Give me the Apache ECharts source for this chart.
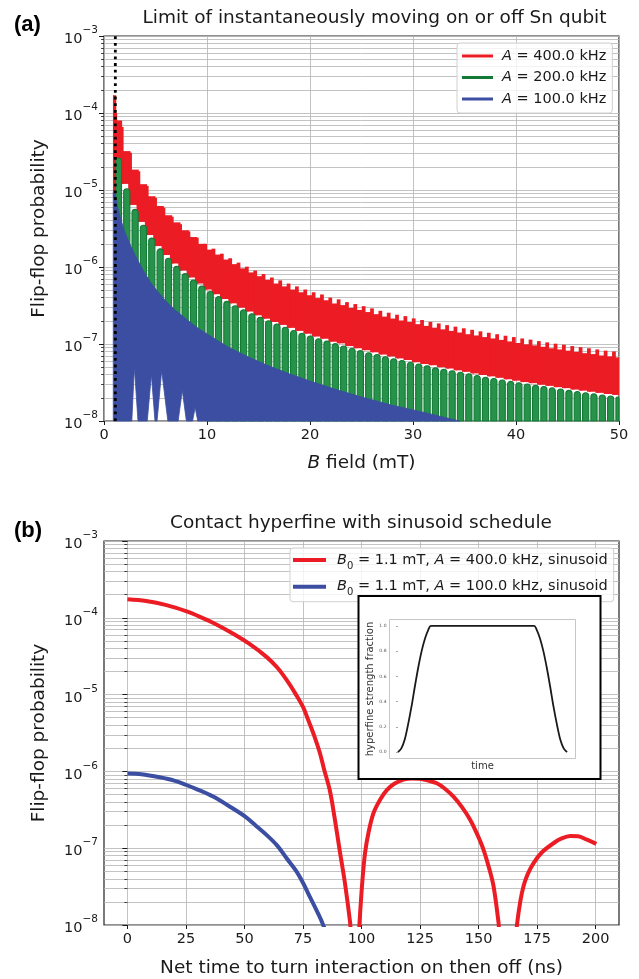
<!DOCTYPE html>
<html><head><meta charset="utf-8">
<script src="https://cdn.jsdelivr.net/npm/echarts@6/dist/echarts.min.js"></script>
<style>html,body{margin:0;padding:0;background:#fff}#c{width:639px;height:979px}</style>
</head><body><div id="c"></div>
<script>
// ---------------- data ----------------
const Y_MIN = 1e-8, Y_MAX = 1e-3;
const B0 = 1.1;
const topNames = ['A = 400.0 kHz', 'A = 200.0 kHz', 'A = 100.0 kHz'];
const botNames = ['B0 = 1.1 mT, A = 400.0 kHz, sinusoid', 'B0 = 1.1 mT, A = 100.0 kHz, sinusoid'];
const nsTicks = [0, 25, 50, 75, 100, 125, 150, 175, 200];
const schedTicks = [0, 0.2, 0.4, 0.6, 0.8, 1.0];

// panel (a): A = 400 kHz, comb of maxima (B in mT)
const redB = [0.92, 1.15, 1.72, 2.53, 3.34, 4.15, 4.96, 5.77, 6.58, 7.39, 8.20, 9.01, 9.82, 10.63, 11.44, 12.25, 13.06, 13.87, 14.68, 15.49, 16.30, 17.11, 17.92, 18.73, 19.54, 20.35, 21.16, 21.97, 22.78, 23.59, 24.40, 25.21, 26.02, 26.83, 27.64, 28.45, 29.26, 30.07, 30.88, 31.69, 32.50, 33.31, 34.12, 34.93, 35.74, 36.55, 37.36, 38.17, 38.98, 39.79, 40.60, 41.41, 42.22, 43.03, 43.84, 44.65, 45.46, 46.27, 47.08, 47.89, 48.70, 49.51];
const redPeak = [1.7e-4, 1.0e-4, 6.6e-5, 3.05e-5, 1.75e-5, 1.13e-5, 7.9e-6, 5.9e-6, 4.5e-6, 3.6e-6, 2.9e-6, 2.4e-6, 2.0e-6, 1.73e-6, 1.49e-6, 1.30e-6, 1.14e-6, 1.01e-6, 9.0e-7, 8.1e-7, 7.3e-7, 6.7e-7, 6.1e-7, 5.6e-7, 5.1e-7, 4.7e-7, 4.4e-7, 4.0e-7, 3.8e-7, 3.5e-7, 3.3e-7, 3.1e-7, 2.9e-7, 2.7e-7, 2.55e-7, 2.4e-7, 2.3e-7, 2.15e-7, 2.05e-7, 1.94e-7, 1.85e-7, 1.76e-7, 1.68e-7, 1.6e-7, 1.53e-7, 1.46e-7, 1.4e-7, 1.34e-7, 1.28e-7, 1.23e-7, 1.18e-7, 1.14e-7, 1.09e-7, 1.05e-7, 1.01e-7, 9.8e-8, 9.4e-8, 9.1e-8, 8.8e-8, 8.5e-8, 8.2e-8, 8.0e-8];
const redDip = [1.7e-4, 8.0e-5, 3.2e-5, 1.84e-5, 1.19e-5, 8.3e-6, 6.2e-6, 4.7e-6, 3.8e-6, 3.0e-6, 2.45e-6, 2.0e-6, 1.68e-6, 1.45e-6, 1.25e-6, 1.09e-6, 9.6e-7, 8.5e-7, 7.6e-7, 6.8e-7, 6.1e-7, 5.6e-7, 5.1e-7, 4.7e-7, 4.3e-7, 3.95e-7, 3.7e-7, 3.36e-7, 3.2e-7, 2.94e-7, 2.77e-7, 2.6e-7, 2.44e-7, 2.27e-7, 2.14e-7, 2.02e-7, 1.93e-7, 1.81e-7, 1.72e-7, 1.63e-7, 1.55e-7, 1.48e-7, 1.41e-7, 1.34e-7, 1.29e-7, 1.23e-7, 1.18e-7, 1.13e-7, 1.08e-7, 1.03e-7, 9.9e-8, 9.6e-8, 9.2e-8, 8.8e-8, 8.5e-8, 8.2e-8, 7.9e-8, 7.6e-8, 7.4e-8, 7.1e-8, 6.9e-8, 6.7e-8];
const redLow = [8e-6, 2.0e-5, 1.2e-5, 6.4e-6, 3.85e-6, 2.6e-6, 1.87e-6, 1.43e-6, 1.11e-6, 9.0e-7, 7.3e-7, 6.1e-7, 5.1e-7, 4.43e-7, 3.84e-7, 3.37e-7, 2.96e-7, 2.64e-7, 2.36e-7, 2.13e-7, 1.93e-7, 1.77e-7, 1.62e-7, 1.48e-7, 1.36e-7, 1.25e-7, 1.17e-7, 1.07e-7, 1.02e-7, 9.4e-8, 8.8e-8, 8.3e-8, 7.8e-8, 7.3e-8, 6.9e-8, 6.5e-8, 6.2e-8, 5.8e-8, 5.5e-8, 5.3e-8, 5.0e-8, 4.8e-8, 4.55e-8, 4.35e-8, 4.15e-8, 3.96e-8, 3.8e-8, 3.64e-8, 3.48e-8, 3.34e-8, 3.2e-8, 3.1e-8, 2.96e-8, 2.86e-8, 2.75e-8, 2.67e-8, 2.56e-8, 2.48e-8, 2.4e-8, 2.32e-8, 2.24e-8, 2.18e-8];

// panel (a): A = 200 kHz, beat lobes (maxima) and floor of the lobes
const greenB = [1.40, 2.21, 3.02, 3.83, 4.64, 5.45, 6.26, 7.07, 7.88, 8.69, 9.50, 10.31, 11.12, 11.93, 12.74, 13.55, 14.36, 15.17, 15.98, 16.79, 17.60, 18.41, 19.22, 20.03, 20.84, 21.65, 22.46, 23.27, 24.08, 24.89, 25.70, 26.51, 27.32, 28.13, 28.94, 29.75, 30.56, 31.37, 32.18, 32.99, 33.80, 34.61, 35.42, 36.23, 37.04, 37.85, 38.66, 39.47, 40.28, 41.09, 41.90, 42.71, 43.52, 44.33, 45.14, 45.95, 46.76, 47.57, 48.38, 49.19, 50.00];
const greenPeak = [2.6e-5, 1.04e-5, 5.6e-6, 3.48e-6, 2.37e-6, 1.72e-6, 1.30e-6, 1.02e-6, 8.2e-7, 6.75e-7, 5.65e-7, 4.8e-7, 4.12e-7, 3.58e-7, 3.14e-7, 2.78e-7, 2.47e-7, 2.22e-7, 2.0e-7, 1.81e-7, 1.65e-7, 1.5e-7, 1.38e-7, 1.27e-7, 1.17e-7, 1.09e-7, 1.01e-7, 9.4e-8, 8.8e-8, 8.2e-8, 7.7e-8, 7.3e-8, 6.8e-8, 6.4e-8, 6.1e-8, 5.8e-8, 5.5e-8, 5.2e-8, 4.9e-8, 4.7e-8, 4.5e-8, 4.3e-8, 4.1e-8, 3.9e-8, 3.7e-8, 3.56e-8, 3.41e-8, 3.27e-8, 3.14e-8, 3.02e-8, 2.9e-8, 2.8e-8, 2.69e-8, 2.6e-8, 2.5e-8, 2.42e-8, 2.33e-8, 2.25e-8, 2.18e-8, 2.11e-8, 2.04e-8];
const greenFloorB = [0, 9.9];          // floor changes at these B
const greenFloor = [6e-8, 1e-8];       // lobe floor from each B onward

// panel (a): A = 100 kHz, upper envelope and lower envelope (minima)
const blueB = [0.9, 1.1, 1.3, 1.6, 2.0, 2.5, 3.0, 3.5, 4.0, 4.5, 5.0, 6.0, 7.0, 8.0, 9.0, 10, 12, 14, 16, 18, 20, 22.4, 25, 28, 31, 34.5];
const blueTop = [9.5e-6, 9.0e-6, 6.2e-6, 4.3e-6, 2.9e-6, 2.0e-6, 1.45e-6, 1.08e-6, 8.2e-7, 6.4e-7, 5.2e-7, 3.6e-7, 2.7e-7, 2.1e-7, 1.65e-7, 1.35e-7, 9.2e-8, 6.8e-8, 5.2e-8, 4.1e-8, 3.3e-8, 2.6e-8, 2.05e-8, 1.6e-8, 1.3e-8, 1.0e-8];
const blueLowB = [0.9, 2.7, 2.95, 3.3, 4.2, 4.6, 4.95, 5.15, 5.6, 6.2, 7.2, 7.6, 8.0, 8.6, 8.85, 9.1, 34.5];
const blueLow = [1e-8, 1e-8, 5e-8, 1e-8, 1e-8, 4e-8, 1e-8, 1e-8, 4.5e-8, 1e-8, 1e-8, 2.5e-8, 1e-8, 1e-8, 1.5e-8, 1e-8, 1e-8];

// panel (b): sinusoid schedule (t in ns)
const t400 = [0, 8, 16.7, 25, 31, 38, 45, 52, 59.4, 64, 68, 72, 75, 77.2, 80, 82.2, 84, 86.5, 88.5, 90.8, 93, 95.1, 96.6, 98.4, 99.1, 100.3, 101.5, 103, 105.1, 108, 110.8, 114, 117.9, 121.5, 125, 128.5, 132.2, 135.5, 139.3, 143, 146.4, 149.5, 152.1, 154.5, 156.4, 158.5, 160, 165, 166.4, 167.8, 169.2, 171, 173.5, 177, 182, 185.5, 189.2, 192.5, 196.3, 200.3];
const p400 = [1.74e-4, 1.65e-4, 1.46e-4, 1.22e-4, 1.03e-4, 8.2e-5, 6.25e-5, 4.6e-5, 3.1e-5, 2.25e-5, 1.55e-5, 1.0e-5, 6.9e-6, 4.7e-6, 2.8e-6, 1.75e-6, 1.07e-6, 5.6e-7, 2.5e-7, 8.9e-8, 3.4e-8, 1.1e-8, 4e-9, 4e-9, 1.0e-8, 3.5e-8, 8.6e-8, 1.6e-7, 2.85e-7, 4.3e-7, 5.7e-7, 6.9e-7, 7.8e-7, 8.1e-7, 8.0e-7, 7.6e-7, 7.0e-7, 6.0e-7, 4.7e-7, 3.4e-7, 2.35e-7, 1.5e-7, 9.6e-8, 5.5e-8, 3.2e-8, 1.1e-8, 4e-9, 4e-9, 1.0e-8, 2.0e-8, 3.2e-8, 4.6e-8, 6.4e-8, 8.8e-8, 1.16e-7, 1.34e-7, 1.44e-7, 1.43e-7, 1.29e-7, 1.14e-7];
const t100 = [0, 6, 13.8, 20, 25.2, 30, 36.6, 43, 50.2, 55, 59.4, 64, 68, 72, 75.1, 78, 80.8, 82.8, 84.4, 86];
const p100 = [9.4e-7, 9.2e-7, 8.4e-7, 7.6e-7, 6.65e-7, 5.8e-7, 4.7e-7, 3.6e-7, 2.6e-7, 1.95e-7, 1.49e-7, 1.08e-7, 7.4e-8, 5.1e-8, 3.5e-8, 2.3e-8, 1.55e-8, 1.15e-8, 8.5e-9, 4e-9];

// inset: hyperfine schedule (normalised time)
const schedT = [0, 0.02, 0.04, 0.06, 0.08, 0.10, 0.12, 0.14, 0.16, 0.18, 0.195, 0.805, 0.82, 0.84, 0.86, 0.88, 0.90, 0.92, 0.94, 0.96, 0.98, 1.0];
const schedV = [0, 0.03, 0.1, 0.22, 0.36, 0.52, 0.67, 0.8, 0.9, 0.97, 1.0, 1.0, 0.97, 0.9, 0.8, 0.67, 0.52, 0.36, 0.22, 0.1, 0.03, 0];

// ---------------- style ----------------
const RED = '#ec1c24', GREEN = '#137a36', GREEN_FILL = '#27924a', BLUE = '#3b4ea2';
const GRID_C = '#b4b4b4', INK = '#1a1a1a';
const FONT = 'DejaVu Sans';

const supRich = {
  b: { fontSize: 14.5, fontFamily: FONT, color: INK, lineHeight: 22, verticalAlign: 'bottom' },
  s: { fontSize: 10.5, fontFamily: FONT, color: INK, lineHeight: 13, verticalAlign: 'top' }
};
function supLabel(v) {
  const e = Math.round(Math.log10(v));
  return '{b|10}{s|\u2212' + (-e) + '}';
}

function clipTo(r, cs) {
  return echarts.graphic.clipRectByRect(r, { x: cs.x, y: cs.y, width: cs.width, height: cs.height });
}

function renderRed(params, api) {
  const i = params.dataIndex;
  const b = api.value(0);
  const bn = i < redB.length - 1 ? redB[i + 1] : b + (b - redB[i - 1]);
  const pLow = api.coord([b, api.value(3)]);
  const pPeak = api.coord([b, api.value(1)]);
  const pDip = api.coord([bn, api.value(2)]);
  const step = pDip[0] - pLow[0];
  const tw = step * 0.45;
  const cs = params.coordSys;
  const children = [];
  const base = clipTo({ x: pLow[0], y: pDip[1], width: step + 0.4, height: pLow[1] - pDip[1] }, cs);
  const tooth = clipTo({ x: pLow[0] - tw / 2, y: pPeak[1], width: tw, height: pLow[1] - pPeak[1] }, cs);
  if (base) children.push({ type: 'rect', shape: base, style: { fill: RED } });
  if (tooth) children.push({ type: 'rect', shape: tooth, style: { fill: RED } });
  return { type: 'group', children };
}

function floorAt(b) {
  let f = greenFloor[0];
  for (let k = 0; k < greenFloorB.length; k++) if (b >= greenFloorB[k]) f = greenFloor[k];
  return f;
}

function renderGreen(params, api) {
  const i = params.dataIndex;
  const b = api.value(0);
  const d = i < greenB.length - 1 ? greenB[i + 1] - b : b - greenB[i - 1];
  const top = api.coord([b, api.value(1)]);
  const bot = api.coord([b, floorAt(b)]);
  const w = api.size([d, 0])[0] * 0.74;
  const r = clipTo({ x: top[0] - w / 2, y: top[1], width: w, height: bot[1] - top[1] }, params.coordSys);
  if (!r) return null;
  return {
    type: 'rect',
    shape: { x: r.x, y: r.y, width: r.width, height: r.height, r: [w / 2, w / 2, 0, 0] },
    style: { fill: GREEN_FILL, stroke: GREEN, lineWidth: 1.1 }
  };
}

function renderBlue(params, api) {
  const pts = [];
  for (let i = 0; i < blueB.length; i++) pts.push(api.coord([blueB[i], blueTop[i]]));
  for (let i = blueLowB.length - 1; i >= 0; i--) pts.push(api.coord([blueLowB[i], blueLow[i]]));
  return { type: 'polygon', shape: { points: pts }, style: { fill: BLUE, stroke: BLUE, lineWidth: 0.8 } };
}

function logYAxis(gi, name) {
  return {
    gridIndex: gi, type: 'log', logBase: 10, min: Y_MIN, max: Y_MAX,
    axisLine: { show: false },
    axisTick: { show: true, length: 5, lineStyle: { color: INK, width: 1 } },
    minorTick: { show: true, splitNumber: 9, length: 3, lineStyle: { color: INK, width: 0.8 } },
    splitLine: { show: true, lineStyle: { color: GRID_C, width: 0.8 } },
    minorSplitLine: { show: true, lineStyle: { color: GRID_C, width: 0.8 } },
    axisLabel: { formatter: supLabel, rich: supRich, margin: 6 },
    name: name, nameLocation: 'middle', nameGap: 55,
    nameTextStyle: { fontSize: 18.5, fontFamily: FONT, color: INK, lineHeight: 20 }
  };
}

const chart = echarts.init(document.getElementById('c'), null, { renderer: 'canvas' });

const option = {
  animation: false,
  backgroundColor: '#fff',
  textStyle: { fontFamily: FONT },
  grid: [
    { left: 104, top: 36, width: 515, height: 385, show: true, borderColor: '#222', borderWidth: 1.2, backgroundColor: 'transparent' },
    { left: 104, top: 541, width: 515, height: 384, show: true, borderColor: '#222', borderWidth: 1.2, backgroundColor: 'transparent' },
    { left: 389.5, top: 619.5, width: 186, height: 139, show: true, borderColor: '#b8b8b8', borderWidth: 0.8, backgroundColor: 'transparent', z: 30 }
  ],
  xAxis: [
    {
      gridIndex: 0, type: 'value', min: 0, max: 50, interval: 10,
      axisLine: { show: false },
      axisTick: { show: true, length: 4, lineStyle: { color: INK, width: 1 } },
      axisLabel: { fontSize: 14.5, fontFamily: FONT, color: INK, margin: 7 },
      splitLine: { show: true, lineStyle: { color: GRID_C, width: 0.8 } },
      name: '{i|B} field (mT)', nameLocation: 'middle', nameGap: 32,
      nameTextStyle: { fontSize: 18.5, fontFamily: FONT, color: INK, lineHeight: 20,
        rich: { i: { fontStyle: 'italic', fontSize: 18.5, fontFamily: FONT, color: INK, lineHeight: 20 } } }
    },
    {
      gridIndex: 1, type: 'value', min: -10, max: 210,
      axisLine: { show: false },
      axisTick: { show: true, length: 4, customValues: nsTicks, lineStyle: { color: INK, width: 1 } },
      axisLabel: { fontSize: 14.5, fontFamily: FONT, color: INK, margin: 7, customValues: nsTicks },
      splitLine: { show: true, lineStyle: { color: GRID_C, width: 0.8 } },
      name: 'Net time to turn interaction on then off (ns)', nameLocation: 'middle', nameGap: 33,
      nameTextStyle: { fontSize: 18.5, fontFamily: FONT, color: INK, lineHeight: 20 }
    },
    {
      gridIndex: 2, type: 'value', min: -0.05, max: 1.05, z: 31,
      axisLine: { show: false }, axisTick: { show: false }, axisLabel: { show: false }, splitLine: { show: false },
      name: 'time', nameLocation: 'middle', nameGap: 2,
      nameTextStyle: { fontSize: 10, fontFamily: FONT, color: '#333', lineHeight: 11 }
    }
  ],
  yAxis: [
    logYAxis(0, 'Flip-flop probability'),
    logYAxis(1, 'Flip-flop probability'),
    {
      gridIndex: 2, type: 'value', min: -0.05, max: 1.05, z: 31,
      axisLine: { show: false },
      axisTick: { show: true, length: 2, customValues: schedTicks, lineStyle: { color: '#666', width: 0.6 } },
      axisLabel: { fontSize: 4.5, color: '#555', margin: 3, customValues: schedTicks, formatter: v => v.toFixed(1) },
      splitLine: { show: false },
      name: 'hyperfine strength fraction', nameLocation: 'middle', nameGap: 14,
      nameTextStyle: { fontSize: 10, fontFamily: FONT, color: '#333', lineHeight: 11 }
    }
  ],
  legend: [
    {
      data: topNames.map((n, k) => ({ name: n, icon: 'rect', itemStyle: { color: [RED, GREEN, BLUE][k] } })),
      orient: 'vertical', left: 457, top: 43, itemWidth: 31, itemHeight: 3, itemGap: 1.5,
      padding: [3, 6, 4, 5], backgroundColor: 'rgba(255,255,255,0.8)', borderColor: '#d0d0d0', borderWidth: 1, borderRadius: 3,
      formatter: n => n.replace(/^A/, '{i|A}'),
      textStyle: { fontSize: 14.5, fontFamily: FONT, color: INK, lineHeight: 20, padding: [0, 0, 0, 4],
        rich: { i: { fontStyle: 'italic', fontSize: 14.5, fontFamily: FONT, color: INK, lineHeight: 20 } } }
    },
    {
      data: botNames.map((n, k) => ({ name: n, icon: 'rect', itemStyle: { color: [RED, BLUE][k] } })),
      orient: 'vertical', left: 290, top: 548, itemWidth: 33, itemHeight: 4, itemGap: 4.7,
      padding: [1, 6, 4, 3], backgroundColor: 'rgba(255,255,255,0.8)', borderColor: '#d0d0d0', borderWidth: 1, borderRadius: 3,
      formatter: n => n.replace(/^B0/, '{i|B}{sub|0}').replace(' A ', ' {i|A} '),
      textStyle: { fontSize: 14.5, fontFamily: FONT, color: INK, lineHeight: 22, padding: [0, 0, 0, 6],
        rich: {
          i: { fontStyle: 'italic', fontSize: 14.5, fontFamily: FONT, color: INK, lineHeight: 22 },
          sub: { fontSize: 10, fontFamily: FONT, color: INK, lineHeight: 15, verticalAlign: 'bottom' }
        } }
    }
  ],
  graphic: [
    { type: 'text', left: 14, top: 14, style: { text: '(a)', fontSize: 22, fontWeight: 'bold', fontFamily: 'Liberation Sans', fill: '#000' } },
    { type: 'text', left: 14, top: 520, style: { text: '(b)', fontSize: 22, fontWeight: 'bold', fontFamily: 'Liberation Sans', fill: '#000' } },
    { type: 'text', x: 374.5, y: 18.3, style: { text: 'Limit of instantaneously moving on or off Sn qubit', fontSize: 18.5, fontFamily: FONT, fill: INK, textAlign: 'center', textVerticalAlign: 'middle' } },
    { type: 'text', x: 361, y: 522.7, style: { text: 'Contact hyperfine with sinusoid schedule', fontSize: 18.5, fontFamily: FONT, fill: INK, textAlign: 'center', textVerticalAlign: 'middle' } },
    { type: 'rect', z: 20, shape: { x: 358.5, y: 596, width: 242, height: 183 }, style: { fill: '#fff', stroke: '#000', lineWidth: 2 } }
  ],
  series: [
    {
      name: topNames[0], type: 'custom', xAxisIndex: 0, yAxisIndex: 0, z: 2,
      itemStyle: { color: RED },
      encode: { x: 0, y: 1 },
      data: redB.map((b, i) => [b, redPeak[i], redDip[i], redLow[i]]),
      renderItem: renderRed
    },
    {
      name: topNames[1], type: 'custom', xAxisIndex: 0, yAxisIndex: 0, z: 3,
      itemStyle: { color: GREEN },
      encode: { x: 0, y: 1 },
      data: greenB.map((b, i) => [b, greenPeak[i]]),
      renderItem: renderGreen
    },
    {
      name: topNames[2], type: 'custom', xAxisIndex: 0, yAxisIndex: 0, z: 4,
      itemStyle: { color: BLUE },
      encode: { x: 0, y: 1 },
      data: [[blueB[0], blueTop[0]]],
      renderItem: renderBlue
    },
    {
      name: 'B0 marker', type: 'line', xAxisIndex: 0, yAxisIndex: 0, z: 6,
      data: [[B0, Y_MIN], [B0, Y_MAX]],
      showSymbol: false, silent: true,
      lineStyle: { color: '#000', width: 2.8, type: [2.8, 3.9] }
    },
    {
      name: botNames[0], type: 'line', xAxisIndex: 1, yAxisIndex: 1, z: 3,
      data: t400.map((t, i) => [t, p400[i]]),
      showSymbol: false, smooth: 0.35, color: RED,
      lineStyle: { color: RED, width: 4 }
    },
    {
      name: botNames[1], type: 'line', xAxisIndex: 1, yAxisIndex: 1, z: 3,
      data: t100.map((t, i) => [t, p100[i]]),
      showSymbol: false, smooth: 0.35, color: BLUE,
      lineStyle: { color: BLUE, width: 4 }
    },
    {
      name: 'schedule', type: 'line', xAxisIndex: 2, yAxisIndex: 2, z: 32,
      data: schedT.map((t, i) => [t, schedV[i]]),
      showSymbol: false, smooth: 0.3, color: '#1a1a1a',
      lineStyle: { color: '#1a1a1a', width: 1.8 }
    }
  ]
};
chart.setOption(option);
</script>
</body></html>
